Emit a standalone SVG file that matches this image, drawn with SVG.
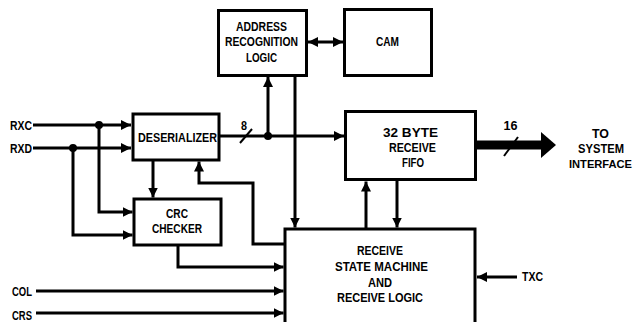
<svg xmlns="http://www.w3.org/2000/svg" width="636" height="322" viewBox="0 0 636 322">
<style>
.box{fill:#fff;stroke:#000;stroke-width:3}
.ln{fill:none;stroke:#000;stroke-width:3}
.arr{marker-end:url(#ah)}
.t{font-family:"Liberation Sans",Arial,sans-serif;font-weight:bold;font-size:13.5px;fill:#000}
.dot{fill:#000}
</style>
<defs>
<marker id="ah" markerUnits="userSpaceOnUse" markerWidth="11" markerHeight="11" refX="10" refY="5" orient="auto-start-reverse">
<path d="M0,0 L10,5 L0,10 z" fill="#000"/>
</marker>
</defs>
<rect width="636" height="322" fill="#fff"/>
<g id="connectors">
<path class="ln arr" d="M33,125 H131"/>
<path class="ln arr" d="M33,148 H131"/>
<path class="ln arr" d="M99,125 V212 H132.5"/>
<path class="ln arr" d="M73,148 V235 H132.5"/>
<path class="ln arr" d="M153,160 V197.5"/>
<path class="ln arr" d="M219,136 H344"/>
<path class="ln arr" d="M268,136 V77"/>
<path class="ln arr" d="M295,76 V227.5"/>
<path class="ln arr" d="M284,244 H253 V183 H199 V161.5"/>
<path class="ln arr" d="M178,245 V267 H283.5"/>
<path class="ln arr" d="M36,291 H283.5"/>
<path class="ln arr" d="M36,313 H283.5"/>
<path class="ln arr" d="M366,228 V181.5"/>
<path class="ln arr" d="M397,180 V227.5"/>
<path class="ln arr" d="M517,277 H477"/>
<path class="ln" d="M308,42 H343" marker-start="url(#ah)" marker-end="url(#ah)"/>
<path d="M477,145 H542" stroke="#000" stroke-width="9" fill="none"/>
<polygon points="541,132 556,145 541,158" fill="#000"/>
<line x1="504" y1="156" x2="518" y2="137" stroke="#000" stroke-width="2"/>
<line x1="240" y1="143" x2="252" y2="129" stroke="#000" stroke-width="2"/>
<circle class="dot" cx="99" cy="125" r="4"/>
<circle class="dot" cx="73" cy="148" r="4"/>
<circle class="dot" cx="268" cy="136" r="4"/>
</g>
<g id="deserializer">
<rect class="box" x="133" y="114" width="86" height="46"/>
<text class="t" x="138" y="141.5" textLength="79" lengthAdjust="spacingAndGlyphs">DESERIALIZER</text>
</g>
<g id="crc">
<rect class="box" x="134" y="199" width="87" height="46"/>
<text class="t" x="166" y="218" textLength="22" lengthAdjust="spacingAndGlyphs">CRC</text>
<text class="t" x="152" y="233" textLength="50" lengthAdjust="spacingAndGlyphs">CHECKER</text>
</g>
<g id="address">
<rect class="box" x="218.5" y="10.5" width="88" height="65"/>
<text class="t" x="236" y="30.5" textLength="51" lengthAdjust="spacingAndGlyphs">ADDRESS</text>
<text class="t" x="225" y="46" textLength="73" lengthAdjust="spacingAndGlyphs">RECOGNITION</text>
<text class="t" x="246" y="61.5" textLength="31" lengthAdjust="spacingAndGlyphs">LOGIC</text>
</g>
<g id="cam">
<rect class="box" x="344.5" y="9.5" width="87" height="66"/>
<text class="t" x="376" y="45.5" textLength="23" lengthAdjust="spacingAndGlyphs">CAM</text>
</g>
<g id="fifo">
<rect class="box" x="345.5" y="111.5" width="130" height="68"/>
<text class="t" x="383" y="136.5" textLength="55" lengthAdjust="spacingAndGlyphs">32 BYTE</text>
<text class="t" x="389" y="151.5" textLength="47" lengthAdjust="spacingAndGlyphs">RECEIVE</text>
<text class="t" x="402" y="166.5" textLength="22" lengthAdjust="spacingAndGlyphs">FIFO</text>
</g>
<g id="statemachine">
<rect class="box" x="285" y="229" width="190" height="100"/>
<text class="t" x="357" y="255" textLength="46" lengthAdjust="spacingAndGlyphs">RECEIVE</text>
<text class="t" x="335" y="271" textLength="93" lengthAdjust="spacingAndGlyphs">STATE MACHINE</text>
<text class="t" x="368" y="286.5" textLength="24" lengthAdjust="spacingAndGlyphs">AND</text>
<text class="t" x="337" y="301.5" textLength="86" lengthAdjust="spacingAndGlyphs">RECEIVE LOGIC</text>
</g>
<g id="labels">
<text class="t" x="10" y="130" textLength="22" lengthAdjust="spacingAndGlyphs">RXC</text>
<text class="t" x="10" y="152.5" textLength="22" lengthAdjust="spacingAndGlyphs">RXD</text>
<text class="t" x="12" y="296" textLength="20" lengthAdjust="spacingAndGlyphs">COL</text>
<text class="t" x="12" y="320" textLength="20" lengthAdjust="spacingAndGlyphs">CRS</text>
<text class="t" x="522" y="281" textLength="21" lengthAdjust="spacingAndGlyphs">TXC</text>
<text class="t" x="241" y="130" textLength="6" lengthAdjust="spacingAndGlyphs">8</text>
<text class="t" x="503.5" y="130" textLength="14" lengthAdjust="spacingAndGlyphs">16</text>
<text class="t" x="592" y="137.5" textLength="17" lengthAdjust="spacingAndGlyphs">TO</text>
<text class="t" x="578" y="153" textLength="46" lengthAdjust="spacingAndGlyphs">SYSTEM</text>
<text class="t" x="569" y="167.5" style="font-size:11.5px" textLength="63" lengthAdjust="spacingAndGlyphs">INTERFACE</text>
</g>
</svg>
